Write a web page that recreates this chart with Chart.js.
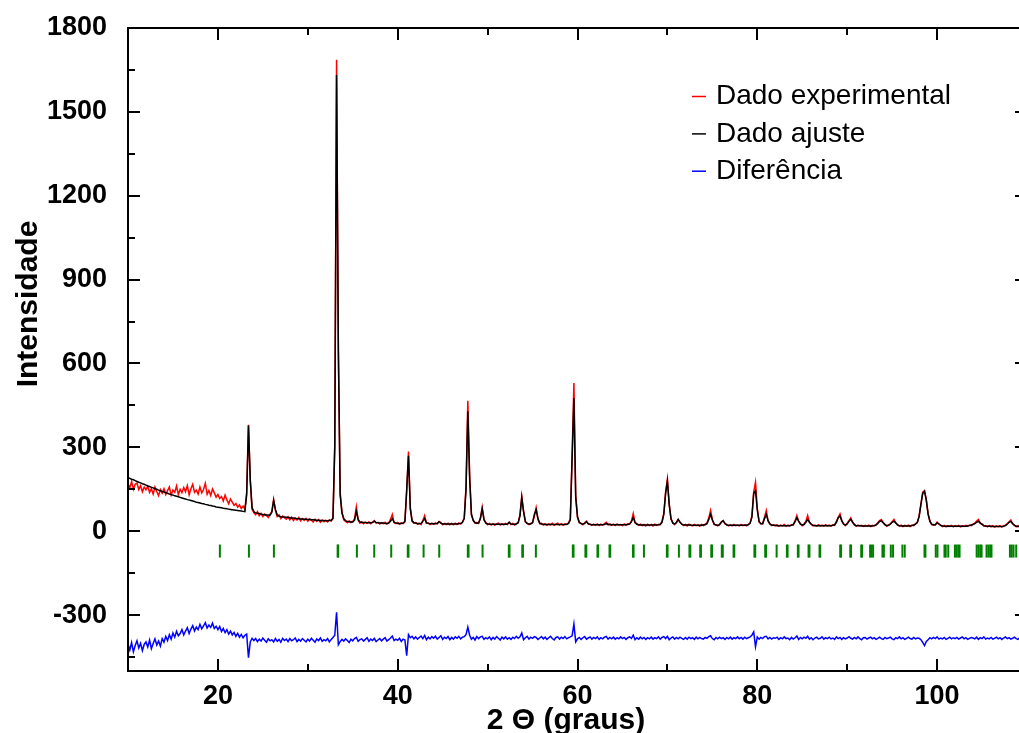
<!DOCTYPE html>
<html>
<head>
<meta charset="utf-8">
<script src="https://cdn.jsdelivr.net/npm/chart.js@4.4.1/dist/chart.umd.min.js"></script>
<style>
  html, body { margin: 0; padding: 0; background: #fff; overflow: hidden; }
  canvas { display: block; }
</style>
</head>
<body>
<canvas id="xrd" width="1040" height="733"></canvas>
<script>
// Scan: 2θ from 10° in steps of 0.2°
const START_ANGLE = 10;
const STEP = 0.2;

// Observed intensity (one row = 2°)
const observed = [
  170,155,178,150,168,172,149,163,141,158, // 10
  148,161,139,152,133,158,141,127,149,136, // 12
  152,131,145,158,129,147,139,162,131,150, // 14
  138,156,141,163,130,152,168,139,147,133, // 16
  158,137,149,171,132,146,128,151,137,122, // 18
  131,117,124,108,129,112,98,115,104,93,   // 20
  99,86,94,81,90,79,138,381,180,78,        // 22
  66,59,70,55,64,52,61,56,49,60,           // 24
  71,113,74,52,58,45,54,48,43,52,          // 26
  41,50,38,47,40,49,37,45,39,46,           // 28
  36,44,39,33,43,35,41,32,40,34,           // 30
  39,33,41,36,48,310,1686,640,138,68,      // 32
  41,35,30,37,31,35,44,87,40,29,           // 34
  34,27,32,28,34,27,33,38,29,32,           // 36
  26,31,27,32,26,30,42,60,30,27,           // 38
  31,25,30,27,33,140,285,86,35,29,         // 40
  31,25,29,24,38,56,28,30,24,29,           // 42
  25,30,26,35,31,23,28,24,29,23,           // 44
  28,23,29,24,30,26,33,47,160,467,         // 46
  205,58,40,29,31,28,47,86,40,31,          // 48
  23,28,22,27,21,26,29,22,27,23,           // 50
  28,24,32,24,28,22,27,31,58,125,          // 52
  72,33,29,24,28,31,54,84,43,27,           // 54
  28,22,27,21,26,23,28,21,25,29,           // 56
  22,27,21,26,24,30,44,270,530,130,        // 58
  52,30,28,23,30,36,25,26,21,25,           // 60
  21,26,20,25,22,27,32,23,26,21,           // 62
  25,20,26,22,24,20,26,21,27,25,           // 64
  36,63,30,27,21,25,20,24,19,25,           // 66
  20,24,19,25,21,24,23,35,64,140,          // 68
  187,98,43,31,24,32,42,31,26,20,          // 70
  24,19,25,21,19,24,20,23,18,24,           // 72
  20,25,29,47,74,43,24,23,19,25,           // 74
  33,38,26,24,19,23,19,24,20,22,           // 76
  19,24,20,23,19,25,30,55,140,175,         // 78
  82,33,28,26,50,74,36,27,20,23,           // 80
  19,23,18,22,19,24,18,22,19,23,           // 82
  22,37,56,35,27,20,26,35,56,31,           // 84
  26,19,22,18,23,19,22,18,23,19,           // 86
  22,18,23,21,35,50,62,36,27,20,           // 88
  28,38,48,31,25,18,22,19,21,17,           // 90
  21,18,22,17,21,19,23,30,38,42,           // 92
  31,25,18,23,26,34,42,29,24,18,           // 94
  22,17,21,18,22,17,22,20,27,30,           // 96
  55,98,140,145,112,60,37,23,24,22,        // 98
  33,25,22,17,21,16,20,17,21,16,           // 100
  20,17,21,16,20,17,21,18,22,20,           // 102
  26,29,36,42,28,26,18,20,16,20,           // 104
  16,20,15,19,16,20,15,20,21,27,           // 106
  34,40,26,22,16,20,15,19,16,19            // 108
];

// Refined (calculated) profile
const calculated = [
  192,189,186,184,181,178,175,173,170,168, // 10
  165,162,160,157,155,152,150,147,145,142, // 12
  140,138,136,133,131,129,127,125,123,121, // 14
  119,117,115,113,112,110,108,106,104,103, // 16
  101,99,98,96,95,93,92,90,89,87,          // 18
  86,85,84,82,81,80,79,78,77,76,           // 20
  75,74,73,72,71,70,130,378,186,85,        // 22
  70,65,64,63,61,60,59,58,58,57,           // 24
  68,110,78,58,54,52,51,51,50,49,          // 26
  48,47,47,46,45,45,44,44,43,43,           // 28
  42,42,41,41,40,39,39,38,38,38,           // 30
  37,37,38,39,45,300,1632,650,130,65,      // 32
  45,38,35,34,33,33,40,71,42,33,           // 34
  31,31,31,30,30,30,31,36,31,30,           // 36
  29,29,29,28,28,29,36,45,32,29,           // 38
  28,28,28,29,35,150,270,80,38,30,         // 40
  29,28,27,28,36,45,30,28,27,27,           // 42
  27,27,28,34,29,26,26,26,26,26,           // 44
  26,26,26,26,27,28,31,45,150,429,         // 46
  190,62,38,31,28,30,45,80,42,29,          // 48
  26,25,25,25,25,25,25,25,25,25,           // 50
  25,26,32,26,25,25,26,30,55,120,          // 52
  70,35,27,26,26,30,60,77,45,29,           // 54
  26,25,24,24,24,24,24,24,24,24,           // 56
  24,24,24,24,25,28,40,260,476,120,        // 58
  50,32,27,25,28,34,27,24,23,23,           // 60
  23,23,23,23,23,24,27,25,23,23,           // 62
  23,23,23,23,23,23,23,23,24,26,           // 64
  34,49,32,25,23,22,22,22,22,22,           // 66
  22,22,22,22,22,23,25,32,60,135,          // 68
  179,95,45,29,26,30,42,33,25,22,          // 70
  22,22,22,22,21,21,21,21,21,21,           // 72
  22,23,27,42,60,40,26,22,21,23,           // 74
  32,38,28,22,21,21,21,21,21,21,           // 76
  21,21,21,21,22,23,28,50,135,145,         // 78
  75,35,26,28,45,60,38,26,22,21,           // 80
  21,20,20,20,20,20,20,20,20,21,           // 82
  24,34,48,36,25,22,24,32,42,33,           // 84
  24,21,20,20,20,20,20,20,20,20,           // 86
  20,20,21,23,32,48,54,38,25,22,           // 88
  26,36,42,33,23,20,20,20,19,19,           // 90
  19,19,19,19,19,20,22,28,35,37,           // 92
  30,23,20,21,25,32,36,30,22,20,           // 94
  19,19,19,19,19,19,20,22,25,32,           // 96
  52,95,135,143,110,62,35,25,22,24,        // 98
  30,26,21,19,18,18,18,18,18,18,           // 100
  18,18,18,18,18,18,18,19,20,22,           // 102
  24,27,32,35,30,24,20,18,18,18,           // 104
  18,17,17,17,17,17,17,18,20,25,           // 106
  32,35,28,21,18,17,17,17,17,17            // 108
];

// Observed minus calculated, shifted down for display
const difference = [
  -404,-425,-398,-431,-409,-392,-418,-401,-427,-405, // 10
  -396,-414,-389,-420,-402,-385,-407,-393,-411,-384, // 12
  -397,-376,-391,-370,-386,-364,-379,-358,-374,-366, // 14
  -352,-371,-357,-345,-366,-350,-338,-357,-343,-352, // 16
  -333,-349,-339,-327,-346,-336,-344,-329,-348,-340, // 18
  -352,-341,-359,-348,-363,-352,-368,-357,-371,-362, // 20
  -376,-365,-379,-369,-381,-372,-368,-452,-396,-383, // 22
  -391,-384,-395,-386,-393,-382,-390,-397,-385,-392, // 24
  -388,-396,-384,-394,-387,-397,-383,-391,-386,-395, // 26
  -384,-392,-388,-382,-395,-387,-393,-384,-390,-396, // 28
  -386,-393,-383,-390,-397,-385,-391,-382,-394,-388, // 30
  -392,-384,-396,-387,-380,-372,-290,-406,-395,-387, // 32
  -393,-385,-391,-398,-386,-392,-384,-380,-394,-388, // 34
  -385,-393,-387,-381,-394,-386,-391,-383,-395,-389, // 36
  -384,-392,-386,-381,-393,-388,-382,-375,-391,-386, // 38
  -390,-383,-394,-386,-389,-445,-370,-381,-376,-385, // 40
  -378,-386,-380,-375,-384,-373,-388,-379,-385,-377, // 42
  -383,-376,-386,-380,-374,-387,-379,-384,-377,-388, // 44
  -380,-386,-378,-383,-376,-385,-379,-377,-370,-343, // 46
  -372,-386,-380,-389,-377,-384,-378,-376,-387,-381, // 48
  -385,-378,-388,-380,-386,-377,-383,-389,-379,-385, // 50
  -378,-386,-381,-387,-379,-384,-376,-383,-378,-364, // 52
  -388,-381,-376,-386,-379,-383,-377,-380,-387,-382, // 54
  -377,-385,-379,-387,-381,-376,-384,-389,-380,-378, // 56
  -386,-379,-384,-377,-385,-381,-378,-374,-332,-396, // 58
  -385,-380,-387,-381,-377,-386,-382,-378,-386,-380, // 60
  -384,-378,-387,-381,-385,-379,-376,-386,-380,-385, // 62
  -379,-386,-381,-385,-378,-384,-380,-387,-381,-378, // 64
  -383,-372,-388,-381,-386,-379,-385,-380,-387,-381, // 66
  -385,-379,-386,-381,-384,-378,-386,-380,-377,-384, // 68
  -376,-388,-382,-378,-386,-380,-385,-379,-383,-387, // 70
  -380,-386,-379,-384,-381,-387,-379,-385,-380,-384, // 72
  -386,-380,-383,-377,-374,-384,-388,-380,-385,-379, // 74
  -384,-381,-387,-380,-385,-379,-386,-381,-384,-378, // 76
  -385,-380,-386,-379,-384,-381,-378,-372,-360,-413, // 78
  -378,-386,-380,-384,-377,-376,-385,-380,-386,-381, // 80
  -383,-379,-387,-381,-385,-378,-384,-382,-388,-380, // 82
  -386,-381,-375,-387,-380,-385,-379,-383,-376,-386, // 84
  -381,-388,-382,-379,-385,-383,-378,-386,-381,-384, // 86
  -379,-385,-382,-387,-378,-384,-380,-387,-381,-385, // 88
  -382,-377,-383,-386,-380,-385,-378,-384,-388,-381, // 90
  -380,-386,-382,-379,-385,-381,-387,-383,-379,-384, // 92
  -387,-380,-384,-382,-379,-385,-388,-381,-384,-378, // 94
  -385,-381,-387,-383,-379,-384,-386,-380,-385,-382, // 96
  -383,-388,-398,-409,-394,-388,-381,-385,-380,-384, // 98
  -378,-386,-382,-385,-380,-387,-383,-379,-385,-381, // 100
  -384,-380,-386,-382,-378,-385,-381,-387,-383,-380, // 102
  -382,-385,-379,-387,-381,-384,-378,-386,-382,-385, // 104
  -380,-386,-383,-379,-385,-381,-387,-382,-378,-384, // 106
  -381,-386,-383,-379,-384,-387,-380,-385,-382,-384  // 108
];

// Bragg reflection positions (2θ)
const reflections = [
  20.22, 23.45, 26.23, 33.32, 33.38, 35.46, 37.39, 39.28, 41.12, 41.20,
  42.88, 44.62, 47.80, 47.88, 49.44, 52.36, 52.44, 53.86, 53.93, 55.37,
  59.48, 59.56, 60.88, 60.98, 62.22, 62.29, 63.56, 63.64, 66.17, 66.24,
  67.39, 69.94, 70.02, 71.28, 72.45, 72.55, 73.65, 73.73, 74.88, 74.96,
  76.05, 76.16, 77.36, 77.44, 79.68, 79.77, 80.88, 80.97, 82.15, 83.29,
  83.37, 84.51, 84.59, 85.70, 85.80, 86.92, 87.00, 89.22, 89.32, 90.34,
  90.43, 91.56, 91.66, 92.55, 92.70, 92.88, 93.92, 94.08, 94.85, 95.10,
  96.14, 96.40, 98.60, 98.70, 99.85, 100.04, 100.82, 100.96, 101.24, 101.98,
  102.15, 102.35, 102.50, 104.40, 104.60, 104.80, 104.95, 105.50, 105.70, 105.90,
  106.05, 108.10, 108.30, 108.50, 108.80
];
const REFLECTION_LEVEL = -71;

// Axis ticks
const xMajorTicks = [20, 40, 60, 80, 100];
const xMinorTicks = [10, 30, 50, 70, 90, 110];
const yMajorTicks = [-300, 0, 300, 600, 900, 1200, 1500, 1800];
const yMinorTicks = [-450, -150, 150, 450, 750, 1050, 1350, 1650];

const seriesLabels = ['Dado experimental', 'Dado ajuste', 'Diferência'];
const xTitle = '2 Θ (graus)';
const yTitle = 'Intensidade';

const FONT = "'Liberation Sans', Arial, Helvetica, sans-serif";
Chart.defaults.font.family = FONT;

function toPoints(values) {
  return values.map((v, i) => ({ x: Math.round((START_ANGLE + i * STEP) * 10) / 10, y: v }));
}

// Closed frame with inward tick marks on all four sides
const frame = {
  id: 'frame',
  afterDatasetsDraw(chart) {
    const { ctx, chartArea: a, scales: { x, y } } = chart;
    ctx.save();
    ctx.strokeStyle = '#000';
    ctx.lineWidth = 2;
    ctx.strokeRect(a.left, a.top, a.right - a.left, a.bottom - a.top);
    ctx.beginPath();
    const xt = (vals, len) => vals.forEach(v => {
      const p = Math.round(x.getPixelForValue(v));
      ctx.moveTo(p, a.bottom); ctx.lineTo(p, a.bottom - len);
      ctx.moveTo(p, a.top); ctx.lineTo(p, a.top + len);
    });
    const yt = (vals, len) => vals.forEach(v => {
      const p = Math.round(y.getPixelForValue(v));
      ctx.moveTo(a.left, p); ctx.lineTo(a.left + len, p);
      ctx.moveTo(a.right, p); ctx.lineTo(a.right - len, p);
    });
    xt(xMajorTicks, 12); xt(xMinorTicks, 7);
    yt(yMajorTicks, 12); yt(yMinorTicks, 7);
    ctx.stroke();
    ctx.restore();
  }
};

// Legend: short coloured dash followed by the series name
const legendBox = {
  id: 'legendBox',
  afterDraw(chart) {
    const ctx = chart.ctx;
    const ds = chart.data.datasets;
    const entries = [
      [seriesLabels[0], ds[1].borderColor, 104.3],
      [seriesLabels[1], ds[0].borderColor, 141.7],
      [seriesLabels[2], ds[2].borderColor, 179]
    ];
    ctx.save();
    ctx.font = '28px ' + FONT;
    ctx.textBaseline = 'alphabetic';
    ctx.textAlign = 'left';
    entries.forEach(([text, color, base]) => {
      ctx.strokeStyle = color;
      ctx.lineWidth = 1.5;
      ctx.beginPath();
      ctx.moveTo(692, base - 7.8);
      ctx.lineTo(706, base - 7.8);
      ctx.stroke();
      ctx.fillStyle = '#000';
      ctx.fillText(text, 716, base);
    });
    ctx.restore();
  }
};

// Axis titles
const axisTitles = {
  id: 'axisTitles',
  afterDraw(chart) {
    const ctx = chart.ctx;
    ctx.save();
    ctx.fillStyle = '#000';
    ctx.font = 'bold 30px ' + FONT;
    ctx.textAlign = 'center';
    ctx.textBaseline = 'alphabetic';
    ctx.fillText(xTitle, 566, 729);
    ctx.translate(37, 304);
    ctx.rotate(-Math.PI / 2);
    ctx.fillText(yTitle, 0, 0);
    ctx.restore();
  }
};

const tickFont = { family: FONT, size: 27, weight: 'bold' };

new Chart(document.getElementById('xrd'), {
  type: 'line',
  data: {
    datasets: [
      { label: seriesLabels[1], data: toPoints(calculated), borderColor: '#000000',
        borderWidth: 1.5, pointRadius: 0, tension: 0, order: 1 },
      { label: seriesLabels[0], data: toPoints(observed), borderColor: '#ff0000',
        borderWidth: 1.5, pointRadius: 0, tension: 0, order: 2 },
      { label: seriesLabels[2], data: toPoints(difference), borderColor: '#0000ff',
        borderWidth: 1.5, pointRadius: 0, tension: 0, order: 3 },
      { type: 'scatter', label: 'Reflexões', data: reflections.map(v => ({ x: v, y: REFLECTION_LEVEL })),
        pointStyle: 'line', rotation: 90, pointRadius: 6.5, borderColor: '#008000',
        backgroundColor: '#008000', borderWidth: 2, showLine: false, order: 4 }
    ]
  },
  options: {
    responsive: false,
    animation: false,
    devicePixelRatio: 1,
    events: [],
    layout: { padding: { top: 28, right: 13, left: 0, bottom: 0 } },
    plugins: { legend: { display: false }, tooltip: { enabled: false } },
    scales: {
      x: {
        type: 'linear', min: 10, max: 110,
        grid: { display: false, drawTicks: false },
        border: { display: false },
        afterBuildTicks: s => { s.ticks = xMajorTicks.map(v => ({ value: v })); },
        afterFit: s => { s.height = 62; s.paddingLeft = 0; s.paddingRight = 0; },
        ticks: { padding: 9, color: '#000', font: tickFont, maxRotation: 0, autoSkip: false,
                 callback: v => String(v) }
      },
      y: {
        type: 'linear', min: -500, max: 1800,
        grid: { display: false, drawTicks: false },
        border: { display: false },
        afterBuildTicks: s => { s.ticks = yMajorTicks.map(v => ({ value: v })); },
        afterFit: s => { s.width = 128; s.paddingTop = 0; s.paddingBottom = 0; },
        ticks: { padding: 21, color: '#000', font: tickFont, autoSkip: false,
                 callback: v => String(v) }
      }
    }
  },
  plugins: [frame, legendBox, axisTitles]
});
</script>
</body>
</html>
